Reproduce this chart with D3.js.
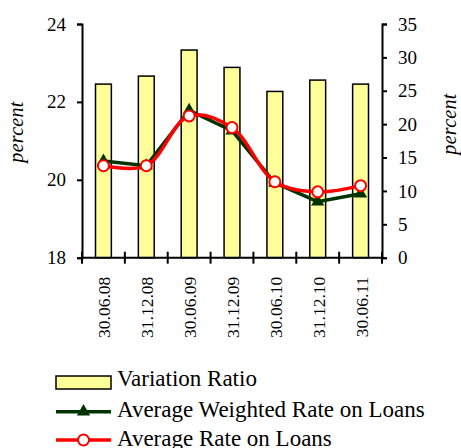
<!DOCTYPE html>
<html><head><meta charset="utf-8">
<script src="https://cdn.jsdelivr.net/npm/d3@7"></script>
<style>
body{margin:0;background:#fff}
svg{display:block}
</style>
</head><body>
<svg id="c" width="461" height="448"></svg>
<script>
const categories = ["30.06.08","31.12.08","30.06.09","31.12.09","30.06.10","31.12.10","30.06.11"];
const variationRatio = [26.0, 27.2, 31.1, 28.5, 24.9, 26.6, 26.0];
const weightedRate = [20.48, 20.36, 21.78, 21.26, 19.92, 19.44, 19.64];
const averageRate = [20.36, 20.36, 21.64, 21.34, 19.95, 19.69, 19.85];
const leftTicks = [18, 20, 22, 24];
const rightTicks = [0, 5, 10, 15, 20, 25, 30, 35];
const seriesNames = ["Variation Ratio", "Average Weighted Rate on Loans", "Average Rate on Loans"];
const axisTitle = "percent";

const FONT = "Liberation Serif";
const svg = d3.select("#c");
const L = 82, R = 382, T = 24, B = 257.7;
const x = d3.scaleBand().domain(categories).range([L, R]).padding(0);
const yL = d3.scaleLinear().domain([18, 24]).range([B, T]);
const yR = d3.scaleLinear().domain([0, 35]).range([B, T]);
const barW = x.bandwidth() * 0.37;
const cx = c => x(c) + x.bandwidth() / 2;

// bars
svg.append("g").selectAll("rect").data(categories).join("rect")
  .attr("x", c => cx(c) - barW / 2)
  .attr("y", (c, i) => yR(variationRatio[i]))
  .attr("width", barW)
  .attr("height", (c, i) => B - yR(variationRatio[i]))
  .attr("fill", "#ffff99").attr("stroke", "#000").attr("stroke-width", 1.5);

// axes
const gl = svg.append("g").attr("transform", `translate(${L},0)`)
  .call(d3.axisLeft(yL).tickValues(leftTicks).tickSize(5).tickPadding(11).tickFormat(d3.format("d")));
const gr = svg.append("g").attr("transform", `translate(${R},0)`)
  .call(d3.axisRight(yR).tickValues(rightTicks).tickSize(5).tickPadding(11).tickFormat(d3.format("d")));
[gl, gr].forEach(g => {
  g.attr("font-family", FONT).attr("font-size", 19);
  g.select(".domain").attr("stroke", "#000").attr("stroke-width", 2);
  g.selectAll(".tick line").attr("stroke", "#000").attr("stroke-width", 2);
  g.selectAll(".tick text").attr("font-size", 19).attr("fill", "#000");
});
// bottom axis
const gb = svg.append("g");
gb.append("line").attr("x1", L).attr("x2", R).attr("y1", B).attr("y2", B).attr("stroke", "#000").attr("stroke-width", 2);
const bounds = categories.map(c => x(c)).concat([R]);
gb.selectAll("line.t").data(bounds).join("line").attr("class", "t")
  .attr("x1", d => d).attr("x2", d => d).attr("y1", B - 6).attr("y2", B + 6)
  .attr("stroke", "#000").attr("stroke-width", 2);
gb.selectAll("text").data(categories).join("text")
  .attr("transform", c => `translate(${cx(c) + 7},${B + 19}) rotate(-90)`)
  .attr("text-anchor", "end").attr("font-size", 17.5).text(c => c);

// axis titles
svg.append("text").attr("transform", "translate(23,132) rotate(-90)").attr("text-anchor", "middle")
  .attr("font-size", 20).attr("letter-spacing", 0.3).attr("font-style", "italic").text(axisTitle);
svg.append("text").attr("transform", "translate(456,124) rotate(-90)").attr("text-anchor", "middle")
  .attr("font-size", 20).attr("letter-spacing", 0.3).attr("font-style", "italic").text(axisTitle);

// lines
const green = "#003300", red = "#ff0000";
const lineG = d3.line().x((d, i) => cx(categories[i])).y(d => yL(d));
svg.append("path").datum(weightedRate).attr("d", lineG).attr("fill", "none").attr("stroke", green).attr("stroke-width", 3.5);
const tri = d3.symbol().type(d3.symbolTriangle).size(75);
svg.append("g").selectAll("path").data(weightedRate).join("path")
  .attr("transform", (d, i) => `translate(${cx(categories[i])},${yL(d)})`)
  .attr("d", tri).attr("fill", green);

const lineR = d3.line().x((d, i) => cx(categories[i])).y(d => yL(d)).curve(d3.curveCatmullRom.alpha(0.5));
svg.append("path").datum(averageRate).attr("d", lineR).attr("fill", "none").attr("stroke", red).attr("stroke-width", 3.5);
svg.append("g").selectAll("circle").data(averageRate).join("circle")
  .attr("cx", (d, i) => cx(categories[i])).attr("cy", d => yL(d)).attr("r", 5.5)
  .attr("fill", "#fff").attr("stroke", red).attr("stroke-width", 2);

// legend
const lg = svg.append("g");
const lx0 = 56, lx1 = 111, tx = 117;
const sym = [382.5, 411.7, 440];
const base = [386, 417, 446];
lg.append("rect").attr("x", lx0).attr("y", 376).attr("width", lx1 - lx0).attr("height", 13)
  .attr("fill", "#ffff99").attr("stroke", "#000").attr("stroke-width", 1.5);
lg.append("line").attr("x1", lx0).attr("x2", lx1).attr("y1", sym[1]).attr("y2", sym[1]).attr("stroke", green).attr("stroke-width", 3.5);
lg.append("path").attr("transform", `translate(${(lx0 + lx1) / 2},${sym[1]})`).attr("d", tri).attr("fill", green);
lg.append("line").attr("x1", lx0).attr("x2", lx1).attr("y1", sym[2]).attr("y2", sym[2]).attr("stroke", red).attr("stroke-width", 3.5);
lg.append("circle").attr("cx", (lx0 + lx1) / 2).attr("cy", sym[2]).attr("r", 5.5).attr("fill", "#fff").attr("stroke", red).attr("stroke-width", 2);
lg.selectAll("text").data(seriesNames).join("text")
  .attr("x", tx).attr("y", (d, i) => base[i]).attr("font-size", 23).text(d => d);

svg.selectAll("text").attr("font-family", FONT).attr("fill", "#000");
</script>
</body></html>
